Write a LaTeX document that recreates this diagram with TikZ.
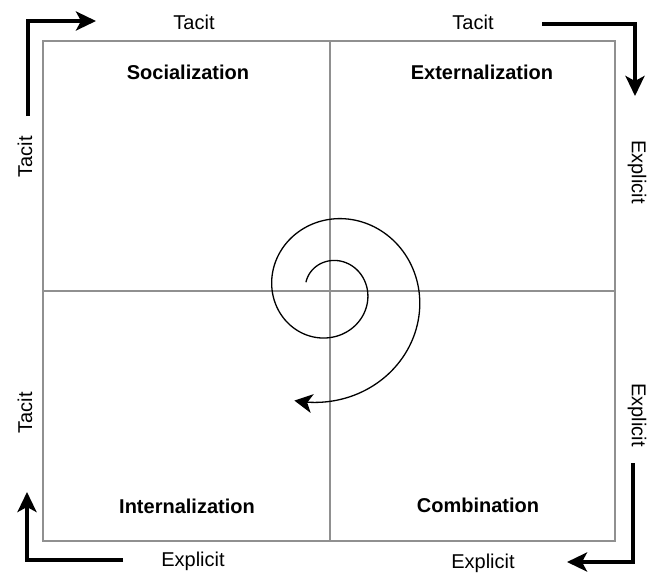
\documentclass[tikz,border=0pt]{standalone}
\usepackage{fontspec}
\setmainfont{Liberation Sans}
\usetikzlibrary{arrows.meta}
\definecolor{boxgray}{HTML}{909090}
\tikzset{
  quad/.style={draw=boxgray, line width=1.4pt},
  flow/.style={line width=3.6pt, -{Stealth[length=20pt,width=19pt,inset=5pt]}},
  spiral/.style={line width=1.3pt, -{Stealth[length=18pt,width=19pt,inset=5pt]}},
  lab/.style={font=\fontsize{20}{24}\selectfont, inner sep=0pt},
  title/.style={font=\fontsize{20}{24}\selectfont\bfseries, inner sep=0pt},
}
\begin{document}
\begin{tikzpicture}[x=1pt,y=-1pt]
\useasboundingbox (0,0) rectangle (661,586);
% box
\coordinate (tl) at (43,41);
\coordinate (br) at (615,541);
\coordinate (tm) at (330,41);
\coordinate (bm) at (330,541);
\coordinate (lm) at (43,291);
\coordinate (rm) at (615,291);
\draw[quad] (tl) rectangle (br);
\draw[quad] (tm) -- (bm);
\draw[quad] (lm) -- (rm);
% quadrant titles
\node[title] (soc) at (188,72) {Socialization};
\node[title] (ext) at (482,72) {Externalization};
\node[title] (int) at (187,506) {Internalization};
\node[title] (com) at (478,505) {Combination};
% side labels
\node[lab] (t1) at (194,22) {Tacit};
\node[lab] (t2) at (473,22) {Tacit};
\node[lab, rotate=90] (t3) at (25,157) {Tacit};
\node[lab, rotate=90] (t4) at (25,413) {Tacit};
\node[lab, rotate=-90] (e1) at (637,172) {Explicit};
\node[lab, rotate=-90] (e2) at (637,415) {Explicit};
\node[lab] (e3) at (193,561) {Explicit};
\node[lab] (e4) at (483,563) {Explicit};
% corner arrows
\coordinate (a1s) at (28,116); \coordinate (a1c) at (28,21); \coordinate (a1e) at (96,21);
\coordinate (a2s) at (542,24); \coordinate (a2c) at (635,24); \coordinate (a2e) at (635,96);
\coordinate (a3s) at (633,463); \coordinate (a3c) at (633,562); \coordinate (a3e) at (567,562);
\coordinate (a4s) at (123,560); \coordinate (a4c) at (27,560); \coordinate (a4e) at (27,492);
\draw[flow] (a1s) -- (a1c) -- (a1e);
\draw[flow] (a2s) -- (a2c) -- (a2e);
\draw[flow] (a3s) -- (a3c) -- (a3e);
\draw[flow] (a4s) -- (a4c) -- (a4e);
% spiral
\draw[spiral] plot[domain=0:628, samples=240, smooth, variable=\t]
  ({330+25.6*exp(0.00239*\t)*cos(160-\t)}, {291-25.6*exp(0.00239*\t)*sin(160-\t)});
\end{tikzpicture}
\end{document}
